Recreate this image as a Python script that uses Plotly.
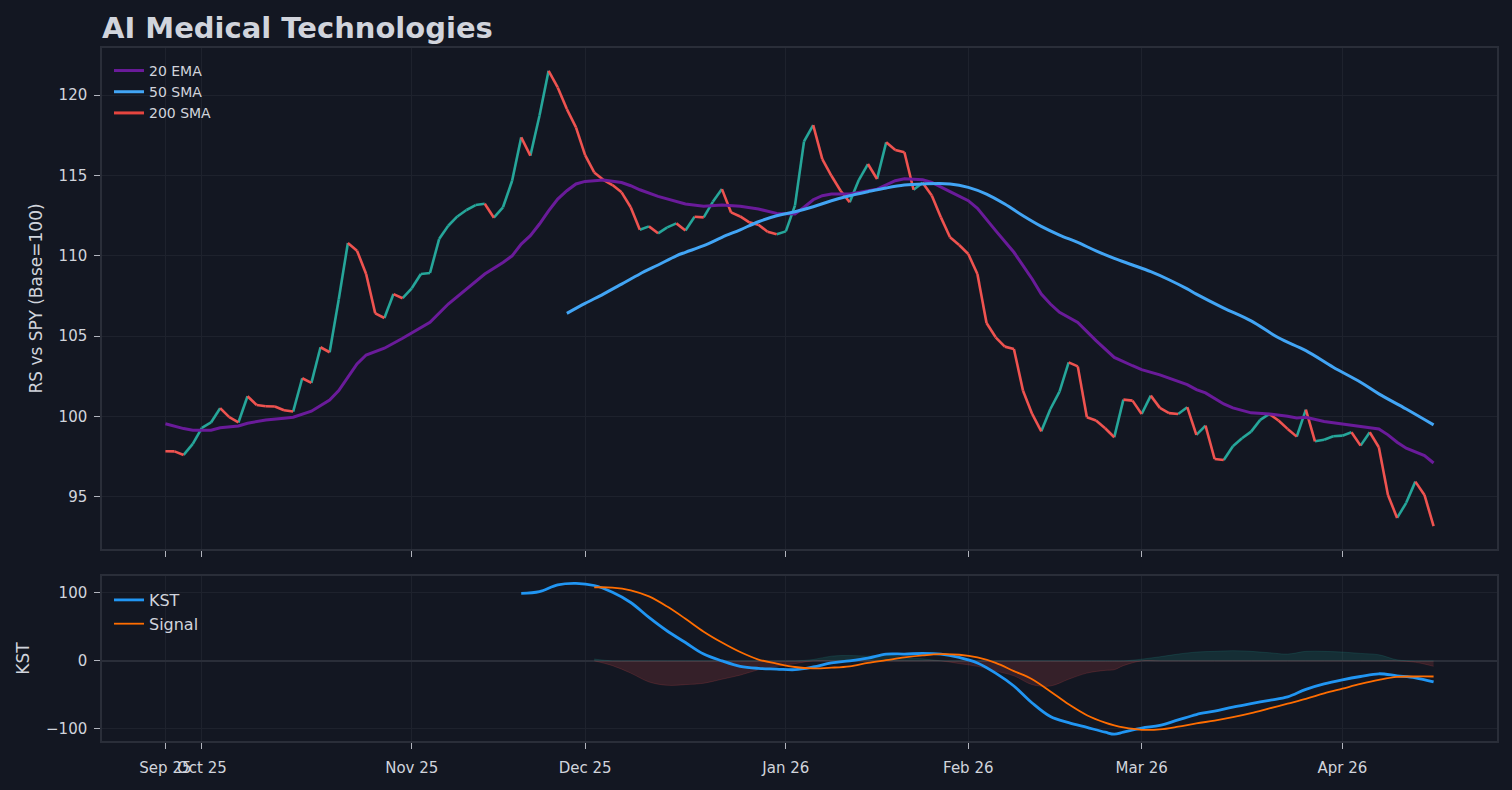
import plotly.graph_objs as go

# Relative strength vs SPY, one value per trading day (index 0 = first session).
rs = [
    97.84, 97.83, 97.61, 98.30, 99.30, 99.63, 100.52, 99.96, 99.63, 101.26,
    100.72, 100.64, 100.62, 100.39, 100.31, 102.38, 102.09, 104.31, 104.00, 107.30,
    110.80, 110.32, 108.87, 106.42, 106.13, 107.62, 107.36, 107.98, 108.87, 108.93,
    111.04, 111.87, 112.45, 112.85, 113.16, 113.24, 112.37, 113.02, 114.67, 117.37,
    116.23, 118.71, 121.51, 120.48, 119.13, 117.99, 116.27, 115.19, 114.73, 114.40,
    113.95, 113.02, 111.62, 111.83, 111.40, 111.77, 112.02, 111.58, 112.43, 112.39,
    113.36, 114.15, 112.70, 112.45, 112.08, 111.93, 111.50, 111.34, 111.52, 113.12,
    117.12, 118.13, 116.02, 114.98, 114.05, 113.33, 114.71, 115.71, 114.78, 117.06,
    116.58, 116.44, 114.11, 114.55, 113.75, 112.39, 111.15, 110.67, 110.11, 108.87,
    105.82, 104.93, 104.35, 104.20, 101.61, 100.16, 99.08, 100.47, 101.55, 103.37,
    103.12, 99.95, 99.75, 99.27, 98.71, 101.05, 100.99, 100.16, 101.30, 100.54,
    100.21, 100.16, 100.58, 98.86, 99.44, 97.36, 97.30, 98.15, 98.65, 99.06,
    99.79, 100.16, 99.75, 99.23, 98.75, 100.43, 98.46, 98.56, 98.77, 98.81,
    99.02, 98.19, 99.02, 98.09, 95.12, 93.69, 94.63, 95.95, 95.12, 93.18,
]

ema20_idx = [
    0, 2, 3, 5, 6, 8, 9, 11, 13, 14, 16, 18, 19, 20, 21, 22, 24, 26, 28, 29,
    31, 33, 35, 37, 38, 39, 40, 41, 42, 43, 44, 45, 46, 48, 50, 51, 52, 54, 56, 57,
    59, 61, 63, 65, 67, 69, 70, 71, 72, 73, 75, 77, 78, 80, 81, 83, 84, 86, 88, 89,
    90, 91, 93, 94, 95, 96, 97, 98, 100, 102, 104, 106, 107, 109, 111, 112, 113, 114, 116, 117,
    119, 121, 123, 124, 125, 127, 129, 131, 132, 133, 134, 135, 136, 138, 139,
]
ema20 = [
    99.55, 99.25, 99.15, 99.15, 99.30, 99.41, 99.58, 99.79, 99.90, 99.96,
    100.33, 101.03, 101.61, 102.44, 103.27, 103.83, 104.25, 104.87, 105.50, 105.86,
    107.00, 107.93, 108.87, 109.59, 110.00, 110.73, 111.25, 111.98, 112.80, 113.53,
    114.05, 114.47, 114.63, 114.71, 114.56, 114.36, 114.11, 113.70, 113.36, 113.22,
    113.08, 113.16, 113.08, 112.91, 112.64, 112.60, 113.02, 113.49, 113.74, 113.84,
    113.84, 114.05, 114.15, 114.67, 114.80, 114.73, 114.57, 113.99, 113.43, 112.95,
    112.29, 111.57, 110.22, 109.39, 108.56, 107.62, 107.00, 106.48, 105.86, 104.72,
    103.68, 103.16, 102.92, 102.59, 102.20, 101.98, 101.67, 101.47, 100.78, 100.54,
    100.23, 100.16, 100.02, 99.91, 99.95, 99.69, 99.54, 99.38, 99.33, 99.23,
    98.86, 98.40, 98.03, 97.57, 97.11,
]

sma50_idx = [
    44, 46, 48, 50, 52, 54, 56, 57, 59, 61, 63, 65, 67, 69, 71, 73, 75, 77, 79, 81,
    83, 86, 88, 90, 92, 94, 96, 98, 100, 102, 104, 106, 108, 110, 112, 113, 116, 119, 122, 125,
    128, 131, 133, 136, 139,
]
sma50 = [
    106.42, 107.04, 107.62, 108.24, 108.87, 109.43, 110.00, 110.22, 110.63, 111.15,
    111.62, 112.12, 112.49, 112.74, 113.05, 113.43, 113.74, 113.99, 114.22, 114.40,
    114.47, 114.47, 114.26, 113.84, 113.22, 112.49, 111.83, 111.29, 110.83, 110.31,
    109.84, 109.43, 109.01, 108.51, 107.94, 107.62, 106.75, 105.95, 104.90, 104.10,
    103.07, 102.13, 101.41, 100.47, 99.48,
]

# Not enough history for a 200-day average: legend entry only.
sma200_idx = [None]
sma200 = [None]

kst_idx = [
    39, 41, 43, 45, 47, 49, 51, 53, 55, 57, 59, 61, 63, 65, 67, 69, 71, 73, 75, 77,
    79, 81, 83, 85, 87, 89, 91, 93, 95, 97, 99, 101, 103, 104, 105, 107, 109, 111, 113, 115,
    117, 119, 121, 123, 125, 127, 129, 131, 133, 135, 137, 139,
]
kst = [
    99.5, 102.0, 112.0, 114.2, 111.0, 101.0, 86.0, 64.0, 44.0, 27.0,
    10.0, 0.0, -8.0, -11.0, -12.0, -13.0, -9.0, -3.0, 0.0, 4.0,
    10.0, 10.0, 11.0, 10.0, 5.0, -3.0, -18.0, -37.0, -62.0, -82.0,
    -91.0, -98.0, -105.0, -108.0, -105.0, -99.0, -95.0, -87.0, -79.0, -74.0,
    -68.0, -63.0, -58.0, -53.0, -42.0, -34.0, -28.0, -23.0, -19.0, -22.0,
    -25.0, -31.0,
]
signal_idx = [
    47, 49, 51, 53, 55, 57, 59, 61, 63, 65, 67, 69, 71, 73, 75, 77, 79, 81, 83, 85,
    87, 89, 91, 93, 95, 97, 99, 101, 103, 104, 105, 107, 109, 111, 113, 115, 117, 119, 121, 123,
    125, 127, 129, 131, 133, 135, 137, 139,
]
signal = [
    108.3, 108.0, 104.0, 95.0, 80.0, 62.0, 43.0, 27.0, 13.0, 2.0,
    -4.0, -9.0, -11.0, -10.0, -8.0, -3.0, 1.0, 5.0, 8.0, 9.8,
    9.0, 5.0, -3.0, -15.0, -27.0, -45.0, -64.0, -80.0, -91.0, -95.0,
    -98.0, -101.5, -101.0, -97.0, -92.0, -88.0, -83.0, -77.0, -70.0, -63.0,
    -56.0, -48.0, -41.0, -34.0, -28.0, -23.5, -23.0, -23.0,
]

# First trading session of each month.
month_idx = [0, 4, 27, 46, 68, 88, 107, 129]
month_labels = ["Sep 25", "Oct 25", "Nov 25", "Dec 25", "Jan 26", "Feb 26", "Mar 26", "Apr 26"]

BG = "#131722"
TEXT = "#d1d4dc"
GRID = "#1e222d"
FRAME = "#2a2e39"
UP = "#26a69a"
DOWN = "#ef5350"
FONT = "DejaVu Sans"


def trace_rs_segments(rising: bool) -> go.Scatter:
    # One trace per direction, segments separated by None.
    xs, ys = [], []
    for i in range(len(rs) - 1):
        if (rs[i + 1] > rs[i]) == rising:
            xs += [i, i + 1, None]
            ys += [rs[i], rs[i + 1], None]
    return go.Scatter(
        x=xs,
        y=ys,
        mode="lines",
        line={"color": UP if rising else DOWN, "width": 2.6},
        showlegend=False,
        hoverinfo="skip",
        xaxis="x",
        yaxis="y",
    )


def trace_hist(positive: bool) -> go.Scatter:
    # KST minus signal on the shared days, split by sign for colouring.
    sig = dict(zip(signal_idx, signal))
    xs = [i for i in kst_idx if i in sig]
    diff = [k - sig[i] for i, k in zip(kst_idx, kst) if i in sig]
    ys = [max(d, 0) if positive else min(d, 0) for d in diff]
    color = "rgba(38,166,154,0.16)" if positive else "rgba(239,83,80,0.16)"
    return go.Scatter(
        x=xs,
        y=ys,
        mode="lines",
        line={"color": color, "width": 1, "shape": "spline"},
        fill="tozeroy",
        fillcolor=color,
        showlegend=False,
        hoverinfo="skip",
        xaxis="x2",
        yaxis="y2",
    )


traces = [
    trace_rs_segments(True),
    trace_rs_segments(False),
    go.Scatter(x=ema20_idx, y=ema20, mode="lines", name="20 EMA",
               line={"color": "#6a1b9a", "width": 3}, legend="legend"),
    go.Scatter(x=sma50_idx, y=sma50, mode="lines", name="50 SMA",
               line={"color": "#42a5f5", "width": 3, "shape": "spline"}, legend="legend"),
    go.Scatter(x=sma200_idx, y=sma200, mode="lines", name="200 SMA",
               line={"color": "#e5453f", "width": 3}, legend="legend"),
    trace_hist(True),
    trace_hist(False),
    go.Scatter(x=kst_idx, y=kst, mode="lines", name="KST",
               line={"color": "#2196f3", "width": 2.8, "shape": "spline"},
               xaxis="x2", yaxis="y2", legend="legend2"),
    go.Scatter(x=signal_idx, y=signal, mode="lines", name="Signal",
               line={"color": "#ff6d00", "width": 1.8, "shape": "spline"},
               xaxis="x2", yaxis="y2", legend="legend2"),
]

axis_common = {
    "showgrid": True,
    "gridcolor": GRID,
    "gridwidth": 1,
    "showline": True,
    "linecolor": FRAME,
    "linewidth": 1.5,
    "mirror": True,
    "zeroline": False,
    "ticks": "outside",
    "ticklen": 6,
    "tickcolor": "#b2b5be",
    "tickfont": {"size": 15, "color": TEXT},
}
x_range = [-6.95, len(rs) - 1 + 6.95]

layout = {
    "width": 1512,
    "height": 790,
    "paper_bgcolor": BG,
    "plot_bgcolor": BG,
    "font": {"family": FONT, "color": TEXT},
    "margin": {"l": 102, "r": 15, "t": 48, "b": 49},
    "title": {
        "text": "AI Medical Technologies",
        "x": 102 / 1512,
        "xanchor": "left",
        "xref": "container",
        "y": 1 - 28 / 790,
        "yanchor": "middle",
        "yref": "container",
        "font": {"size": 29, "weight": "bold", "color": TEXT, "family": FONT},
    },
    "xaxis": {
        **axis_common,
        "domain": [0, 1],
        "anchor": "y",
        "range": x_range,
        "tickvals": month_idx,
        "ticktext": month_labels,
        "showticklabels": False,
    },
    "yaxis": {
        **axis_common,
        "domain": [0.2771, 1],
        "anchor": "x",
        "range": [91.76, 122.93],
        "dtick": 5,
        "ticklabelstandoff": 4,
        "title": {"text": "RS vs SPY (Base=100)", "font": {"size": 17, "color": TEXT}, "standoff": 12},
    },
    "xaxis2": {
        **axis_common,
        "domain": [0, 1],
        "anchor": "y2",
        "range": x_range,
        "matches": "x",
        "tickvals": month_idx,
        "ticktext": month_labels,
        "tickangle": 0,
        "ticklabelstandoff": 6,
    },
    "yaxis2": {
        **axis_common,
        "domain": [0, 0.2381],
        "anchor": "x2",
        "range": [-118, 125],
        "tickvals": [-100, 0, 100],
        "zeroline": True,
        "zerolinecolor": FRAME,
        "zerolinewidth": 2,
        "ticklabelstandoff": 4,
        "title": {"text": "KST", "font": {"size": 17, "color": TEXT}, "standoff": 12},
    },
    "legend": {
        "x": 0.005,
        "y": 0.99,
        "xanchor": "left",
        "yanchor": "top",
        "bgcolor": "rgba(0,0,0,0)",
        "font": {"size": 14, "color": TEXT},
        "tracegroupgap": 0,
    },
    "legend2": {
        "x": 0.005,
        "y": 0.228,
        "xanchor": "left",
        "yanchor": "top",
        "bgcolor": "rgba(0,0,0,0)",
        "font": {"size": 16, "color": TEXT},
    },
    "hovermode": "x",
}

fig = go.Figure(data=traces, layout=layout)
# Drop the browser's default page margin so the figure sits flush in the window.
fig.write_html(
    "out.html",
    config={"displayModeBar": False},
    post_script="document.body.style.margin='0';document.body.style.background='#131722';",
)
